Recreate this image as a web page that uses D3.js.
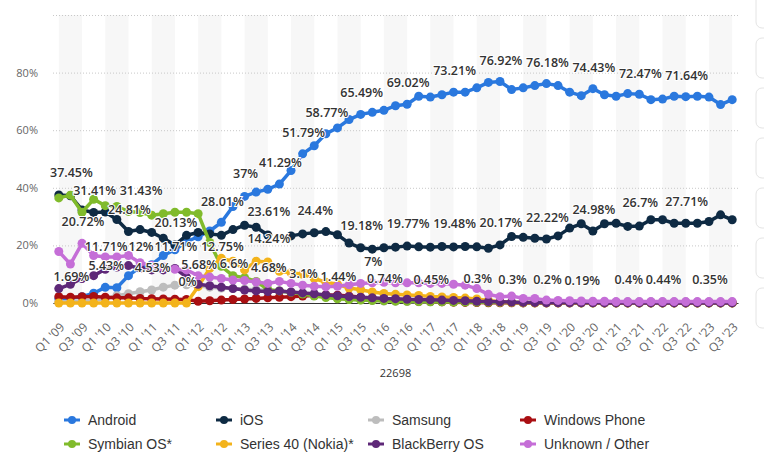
<!DOCTYPE html>
<html>
<head>
<meta charset="utf-8">
<script src="https://cdn.jsdelivr.net/npm/d3@7"></script>
<style>
  body { margin: 0; background: #fff; }
  svg { display: block; font-family: "Open Sans", sans-serif; }
</style>
</head>
<body>
<div id="chart"></div>
<script>
/* global d3 */

const quarters = [
  "Q1 '09", "Q2 '09", "Q3 '09", "Q4 '09", "Q1 '10", "Q2 '10", "Q3 '10", "Q4 '10",
  "Q1 '11", "Q2 '11", "Q3 '11", "Q4 '11", "Q1 '12", "Q2 '12", "Q3 '12", "Q4 '12",
  "Q1 '13", "Q2 '13", "Q3 '13", "Q4 '13", "Q1 '14", "Q2 '14", "Q3 '14", "Q4 '14",
  "Q1 '15", "Q2 '15", "Q3 '15", "Q4 '15", "Q1 '16", "Q2 '16", "Q3 '16", "Q4 '16",
  "Q1 '17", "Q2 '17", "Q3 '17", "Q4 '17", "Q1 '18", "Q2 '18", "Q3 '18", "Q4 '18",
  "Q1 '19", "Q2 '19", "Q3 '19", "Q4 '19", "Q1 '20", "Q2 '20", "Q3 '20", "Q4 '20",
  "Q1 '21", "Q2 '21", "Q3 '21", "Q4 '21", "Q1 '22", "Q2 '22", "Q3 '22", "Q4 '22",
  "Q1 '23", "Q2 '23", "Q3 '23"
];

const yTicks = [0, 20, 40, 60, 80, 100];

const android = [1.5, 1.69, 2.2, 3.4, 5.43, 5.3, 9.5, 12.5, 13.3, 16.5,
  18.5, 21.3, 23, 25, 28.01, 33.5, 37, 38.5, 39.5, 41.29,
  46, 51.79, 54.6, 58.77, 60.8, 63.7, 65.49, 66.2, 66.9, 68.5,
  69.02, 71.8, 71.5, 72.3, 73.21, 73.2, 74.7, 76.6, 76.92, 74.1,
  74.7, 75.5, 76.18, 75.5, 73.2, 72.0, 74.43, 72.3, 71.8, 72.7,
  72.47, 70.6, 70.8, 71.8, 71.64, 71.8, 71.5, 68.9, 70.6];

const ios = [37.5, 37.2, 32.3, 31.41, 31.6, 29, 24.81, 25.5, 24.5, 22.5,
  20.13, 23.5, 24.5, 24, 23.5, 25.5, 27, 26.3, 23.61, null,
  23.3, 24, 24.4, 24.8, 23.7, 20.8, 19.18, 18.7, 19.2, 19.4,
  19.77, 19.5, 19.4, 19.6, 19.48, 19.6, 19.5, 19, 20.17, 23.1,
  22.8, 22.5, 22.22, 23.3, 26, 27.5, 24.98, 27.5, 27.7, 26.6,
  26.7, 28.9, 28.9, 27.7, 27.71, 27.7, 28.3, 30.6, 28.9];

const samsung = [0.4, 0.5, 0.7, 1, 1.5, 2.5, 3.2, 3.9, 4.53, 5.5,
  6.2, 6.3, 6, 5.5, 5.2, 5, 4.8, 4.6, 4.4, 4,
  3.7, 3.3, 2.8, 2.3, 1.8, 1.4, 1.1, 0.9, 0.7, 0.6,
  0.5, 0.45, 0.4, 0.4, 0.35, 0.35, 0.3, 0.3, 0.3, 0.3,
  0.25, 0.2, 0.2, 0.2, 0.19, 0.19, 0.2, 0.3, 0.35, 0.4,
  0.4, 0.42, 0.44, 0.4, 0.4, 0.38, 0.35, 0.35, 0.33];

const windowsPhone = [2.2, 2, 2.2, 2.3, 2, 1.8, 1.8, 1.6, 1.5, 1.4,
  1.3, 1.2, 0.6, 0.8, 1, 1.2, 1.4, 1.6, 1.8, 2,
  2.2, 2.4, 2.6, 2.8, 2.7, 2.4, 2, 1.6, 1.3, 1,
  0.8, 0.6, 0.5, 0.4, 0.3, 0.2, 0.15, 0.1, 0.08, 0.05,
  0.03, 0.03, 0.03, 0.03, 0.03, 0.03, 0.03, 0.03, 0.03, 0.03,
  0.03, 0.03, 0.03, 0.03, 0.03, 0.03, 0.03, 0.03, 0.03];

const symbian = [36.5, 37.45, 31.5, 36, 33.8, 33.5, 31.8, 31.43, 30.5, 31,
  31.5, 31.5, 31, 21, 12.75, 9.5, 8.8, 7.5, 4.68, 4.2,
  3.7, 3.1, 2.4, 1.9, 1.44, 1.2, 1, 0.85, 0.74, 0.65,
  0.6, 0.5, 0.45, 0.4, 0.35, 0.32, 0.3, 0.25, 0.2, 0.15,
  0.1, 0.08, 0.06, 0.05, 0.05, 0.04, 0.04, 0.03, 0.03, 0.03,
  0.02, 0.02, 0.02, 0.02, 0.02, 0.02, 0.02, 0.02, 0.02];

const series40 = [0, 0, 0, 0, 0, 0, 0, 0, 0, 0,
  0, 0, 5.68, 12, 15.5, 14.5, 11.5, 14.5, 14.24, 11,
  10.5, 10, 8.5, 7.2, 6.5, 5.2, 4.6, 3.8, 3.3, 3,
  2.8, 2.6, 2.3, 2.1, 1.9, 1.7, 1.4, 0.9, 0.4, 0.2,
  0.15, 0.1, 0.1, 0.08, 0.06, 0.05, 0.05, 0.04, 0.04, 0.03,
  0.03, 0.03, 0.02, 0.02, 0.02, 0.02, 0.02, 0.02, 0.02];

const blackberry = [5, 6.5, 8.5, 9.5, 11.71, 12.5, 13, 12, 11.5, 11.5,
  12, 9, 6.5, 6, 5.5, 5, 4.5, 4.2, 4, 4.2,
  3.8, 3.5, 3.2, 2.8, 2.5, 2.2, 2, 1.8, 1.6, 1.5,
  1.3, 1.2, 1.1, 1, 0.9, 0.8, 0.6, 0.5, 0.4, 0.3,
  0.2, 0.15, 0.1, 0.08, 0.06, 0.05, 0.05, 0.04, 0.04, 0.03,
  0.03, 0.03, 0.03, 0.03, 0.03, 0.03, 0.03, 0.03, 0.03];

const other = [17.9, 13.5, 20.72, 16.5, 16, 16, 16.5, 14, 13, 12.5,
  11.71, 11.5, 9.5, 9, 8.5, 8, 7.8, 7.3, 6.8, 7.5,
  6.8, 6.2, 5.8, 5.6, 5.8, 6.3, 6.8, 7, 7.2, 7,
  7, 7, 6.8, 6.8, 6.5, 6.2, 5, 3, 2.2, 2.4,
  1.6, 1.6, 1, 0.9, 0.8, 0.7, 0.6, 0.6, 0.5, 0.5,
  0.5, 0.5, 0.5, 0.5, 0.5, 0.5, 0.5, 0.5, 0.5];

const seriesNames = ["Android", "iOS", "Samsung", "Windows Phone",
  "Symbian OS*", "Series 40 (Nokia)*", "BlackBerry OS", "Unknown / Other"];
const seriesValues = [android, ios, samsung, windowsPhone, symbian, series40, blackberry, other];
const seriesColors = ["#2a78de", "#0e2a43", "#bdbdbd", "#a90f12",
  "#80bb2b", "#f3b31b", "#5e2878", "#c56ed7"];

// value labels: quarter index, level (%) at which the label sits, text
const labelIndex = [1, 1, 2, 3, 4, 4, 6, 7, 7, 8, 10, 10, 11, 12, 14, 14, 15, 16, 18, 18, 18,
  19, 21, 21, 22, 23, 24, 26, 26, 27, 28, 30, 30, 32, 34, 34, 36, 38, 38, 39,
  42, 42, 42, 45, 46, 46, 49, 50, 50, 52, 54, 54, 56];
const labelLevel = [45.1, 9.2, 28.3, 39.1, 19.6, 12.9, 32.3, 39.1, 19.6, 12.3, 27.9, 19.6, 7.4, 13.4, 35.2, 19.6, 13.6, 44.9, 31.8, 22.2, 12.4,
  48.6, 59.2, 10.3, 32.0, 66.0, 9.2, 73.2, 26.8, 14.2, 8.6, 76.6, 27.7, 8.2, 80.8, 27.5, 8.6, 84.3, 27.9, 8.2,
  83.6, 29.5, 8.2, 7.7, 81.6, 32.3, 8.2, 79.7, 34.7, 8.2, 79.0, 35.2, 8.2];
const labelText = ["37.45%", "1.69%", "20.72%", "31.41%", "11.71%", "5.43%", "24.81%", "31.43%", "12%", "4.53%", "20.13%", "11.71%", "0%", "5.68%", "28.01%", "12.75%", "6.6%", "37%", "23.61%", "14.24%", "4.68%",
  "41.29%", "51.79%", "3.1%", "24.4%", "58.77%", "1.44%", "65.49%", "19.18%", "7%", "0.74%", "69.02%", "19.77%", "0.45%", "73.21%", "19.48%", "0.3%", "76.92%", "20.17%", "0.3%",
  "76.18%", "22.22%", "0.2%", "0.19%", "74.43%", "24.98%", "0.4%", "72.47%", "26.7%", "0.44%", "71.64%", "27.71%", "0.35%"];

const axisTitle = "22698";

function drawChart(selector) {
  const width = 764;
  const height = 463;
  const plot = { left: 53, right: 738, top: 15, bottom: 303 };

  const svg = d3.select(selector)
    .append("svg")
    .attr("width", width)
    .attr("height", height);

  const x = d3.scalePoint()
    .domain(quarters)
    .range([plot.left, plot.right])
    .padding(0.5);

  const y = d3.scaleLinear()
    .domain([0, 100])
    .range([plot.bottom, plot.top]);

  // side panel buttons (page chrome)
  svg.append("g")
    .selectAll("rect")
    .data(d3.range(7))
    .enter()
    .append("rect")
    .attr("x", 756)
    .attr("y", (d) => -12 + d * 50)
    .attr("width", 30)
    .attr("height", 40)
    .attr("rx", 6)
    .attr("fill", "#fff")
    .attr("stroke", "#e4e4e4");

  // alternating column bands, one per two ticks
  const bandStarts = quarters.filter((q, i) => i % 4 === 0 && i + 2 < quarters.length);
  svg.append("g")
    .selectAll("rect")
    .data(bandStarts)
    .enter()
    .append("rect")
    .attr("x", (d) => x(d))
    .attr("y", plot.top)
    .attr("width", (d) => x(quarters[quarters.indexOf(d) + 2]) - x(d))
    .attr("height", plot.bottom - plot.top)
    .attr("fill", "#f7f7f7");

  // y grid + labels
  const yAxis = svg.append("g")
    .attr("transform", `translate(${plot.left},0)`)
    .call(d3.axisLeft(y)
      .tickValues(yTicks)
      .tickSize(-(plot.right - plot.left))
      .tickPadding(15)
      .tickFormat((d) => (d === 100 ? "" : d + "%")));
  yAxis.select(".domain").remove();
  yAxis.selectAll("line")
    .attr("stroke", "#c8c8c8")
    .attr("stroke-dasharray", "1,2");
  yAxis.selectAll("text")
    .attr("fill", "#666")
    .attr("font-size", "11px")
    .attr("font-family", "Open Sans, sans-serif");

  // x axis
  const xAxis = svg.append("g")
    .attr("transform", `translate(0,${plot.bottom})`)
    .call(d3.axisBottom(x)
      .tickValues(quarters.filter((q, i) => i % 2 === 0))
      .tickSize(0)
      .tickSizeOuter(0));
  xAxis.select(".domain")
    .attr("stroke", "#333");
  xAxis.selectAll("text")
    .attr("x", 0)
    .attr("y", 0)
    .attr("dy", 0)
    .attr("transform", "translate(6,25) rotate(-45)")
    .attr("text-anchor", "end")
    .attr("fill", "#666")
    .attr("font-size", "12px")
    .attr("font-family", "Open Sans, sans-serif");

  svg.append("text")
    .attr("x", (plot.left + plot.right) / 2)
    .attr("y", 377)
    .attr("text-anchor", "middle")
    .attr("font-size", "11px")
    .attr("fill", "#333")
    .text(axisTitle);

  // series
  const line = d3.line()
    .defined((d) => d !== null)
    .x((d, i) => x(quarters[i]))
    .y((d) => y(d));

  const series = svg.append("g")
    .selectAll("g")
    .data(seriesValues)
    .enter()
    .append("g")
    .attr("fill", (d, i) => seriesColors[i])
    .attr("stroke", (d, i) => seriesColors[i]);

  series.append("path")
    .attr("fill", "none")
    .attr("stroke-width", 3.5)
    .attr("stroke-linejoin", "round")
    .attr("d", (d) => line(d));

  series.selectAll("circle")
    .data((d) => d.map((v, i) => ({ v, i })).filter((p) => p.v !== null))
    .enter()
    .append("circle")
    .attr("stroke", "none")
    .attr("cx", (d) => x(quarters[d.i]))
    .attr("cy", (d) => y(d.v))
    .attr("r", 4.5);

  // value labels
  svg.append("g")
    .selectAll("text")
    .data(labelText)
    .enter()
    .append("text")
    .attr("x", (d, i) => x(quarters[labelIndex[i]]) + 1)
    .attr("y", (d, i) => y(labelLevel[i]))
    .attr("dy", "0.35em")
    .attr("text-anchor", "middle")
    .attr("font-size", "12.5px")
    .attr("font-weight", 600)
    .attr("fill", "#333")
    .attr("stroke", "#fff")
    .attr("stroke-width", 2)
    .attr("paint-order", "stroke")
    .text((d) => d);

  // legend
  const legend = svg.append("g")
    .attr("font-family", "Liberation Sans, Arial, sans-serif")
    .attr("font-size", "14px");

  const items = legend.selectAll("g")
    .data(seriesNames)
    .enter()
    .append("g")
    .attr("transform", (d, i) => `translate(${64 + (i % 4) * 152},${420 + Math.floor(i / 4) * 24})`);

  items.append("line")
    .attr("x1", 0)
    .attr("x2", 16)
    .attr("stroke", (d, i) => seriesColors[i])
    .attr("stroke-width", 3);

  items.append("circle")
    .attr("cx", 8)
    .attr("r", 4)
    .attr("fill", (d, i) => seriesColors[i]);

  items.append("text")
    .attr("x", 24)
    .attr("dy", "0.35em")
    .attr("fill", "#333")
    .text((d) => d);
}

document.addEventListener("DOMContentLoaded", function () {
  drawChart("#chart");
});
</script>
</body>
</html>
